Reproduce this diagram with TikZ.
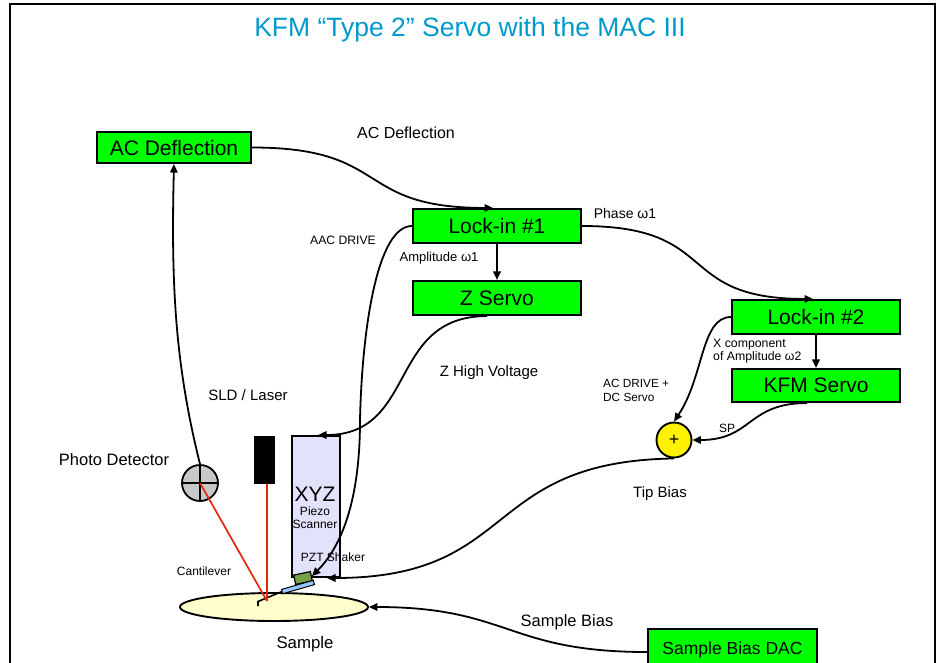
\documentclass[tikz,border=0pt]{standalone}
\usepackage{fontspec}
\setmainfont{Liberation Sans}
\usetikzlibrary{arrows.meta,shapes.geometric}
\definecolor{unitgreen}{RGB}{0,255,0}
\definecolor{titleblue}{RGB}{0,153,204}
\definecolor{scannerfill}{RGB}{226,226,250}
\definecolor{samplefill}{RGB}{255,255,204}
\definecolor{shakergreen}{RGB}{118,160,70}
\definecolor{leverblue}{RGB}{150,200,250}
\definecolor{beamred}{RGB}{225,40,10}
\definecolor{detgray}{RGB}{200,200,200}
\begin{document}
\begin{tikzpicture}[x=1pt,y=-1pt,
  unit/.style={draw=black, line width=2.1pt, fill=unitgreen, inner sep=0pt,
    minimum width=168pt, minimum height=34pt, font=\fontsize{21}{24}\selectfont},
  lbl/.style={inner sep=0pt, font=\fontsize{#1}{#1}\selectfont},
  conn/.style={line width=1.8pt, -{Triangle[length=8.5pt,width=7.5pt]}},
  beam/.style={draw=beamred, line width=1.7pt}]
\useasboundingbox (0,0) rectangle (941,662);
\clip (0,0) rectangle (941,662);

% page frame
\draw[line width=2.6pt] (10,4) rectangle (935,720);

% title
\node[lbl=26.5, text=titleblue] (title) at (470,30) {KFM “Type 2” Servo with the MAC III};

% electronics blocks
\node[unit, minimum width=154pt, minimum height=31pt] (acdef) at (174,147.5) {AC Deflection};
\node[unit] (lock1) at (497,226) {Lock-in \#1};
\node[unit] (zservo) at (497,298) {Z Servo};
\node[unit] (lock2) at (816,317) {Lock-in \#2};
\node[unit, minimum height=33pt] (kfm) at (816,385.5) {KFM Servo};
\node[unit, minimum width=169pt, minimum height=40pt, font=\fontsize{17.5}{20}\selectfont,
  text depth=0pt] (dac) at (732.5,649) {\raisebox{2pt}{Sample Bias DAC}};

% summing junction
\node[circle, draw=black, line width=1.9pt, fill=yellow, minimum size=35pt, inner sep=0pt,
  font=\fontsize{18}{18}\selectfont] (sum) at (674,440) {+};

% sample
\node[ellipse, draw=black, line width=1.9pt, fill=samplefill, minimum width=188pt,
  minimum height=28pt, inner sep=0pt] (sample) at (274,607) {};

% XYZ piezo scanner
\node[rectangle, draw=black, line width=1.9pt, fill=scannerfill, minimum width=48pt,
  minimum height=141pt, inner sep=0pt] (xyz) at (316,506.5) {};
\node[lbl=21] (xyzlbl) at (315,494) {XYZ};
\node[lbl=12] (piezo) at (315,511) {Piezo};
\node[lbl=12] (scanner) at (315,524) {Scanner};
\node[lbl=12] (pztlbl) at (333,557) {PZT Shaker};

% shaker and cantilever
\node[rectangle, draw=black, line width=1.2pt, fill=shakergreen, minimum width=17pt,
  minimum height=9.5pt, inner sep=0pt, rotate=12] (shaker) at (303,578) {};
\node[rectangle, draw=black, line width=1pt, fill=leverblue, minimum width=33pt,
  minimum height=4.5pt, inner sep=0pt, rotate=16] (lever) at (298,587) {};
\coordinate (tip) at (267,601);
\draw[line width=1.6pt] (258,606) -- (258,601.5) -- (lever.west);

% laser and photo detector
\node[rectangle, fill=black, minimum width=21pt, minimum height=48pt, inner sep=0pt] (laser) at (264.5,460) {};
\node[circle, draw=black, line width=1.8pt, fill=detgray, minimum size=36pt, inner sep=0pt] (pd) at (200,483) {};
\draw[line width=1.6pt] (pd.north) -- (pd.south) (pd.west) -- (pd.east);
\draw[beam] (tip |- laser.south) -- (tip);
\draw[beam] (pd.center) -- (tip);

% signal paths
\draw[conn] (acdef.east) .. controls +(140,0) and +(-140,0) .. ([xshift=-4pt]lock1.north);
\draw[conn] (lock1.east) .. controls +(140,0) and +(-140,0) .. ([xshift=-3pt]lock2.north);
\draw[conn] (lock1.south) -- (zservo.north);
\draw[conn] (lock2.south) -- (kfm.north);
\draw[conn] ([xshift=-10pt]zservo.south) .. controls +(-100,0) and +(100,0) .. ([xshift=2pt]xyz.north);
\coordinate (aacmid) at (360,420);
\draw[conn] (lock1.west) .. controls +(-35,0) and +(2,-90) .. (aacmid)
  .. controls +(0,90) and +(25,-25) .. (shaker.east);
\draw[conn] (pd.north) .. controls +(-25,-100) and +(-3,120) .. (acdef.south);
\draw[conn] (lock2.west) .. controls +(-30,0) and +(30,-45) .. (sum.north);
\draw[conn] ([xshift=-9pt]kfm.south) .. controls +(-60,0) and +(60,0) .. (sum.east);
\coordinate (tipin) at (327,578);
\draw[conn] (sum.south) .. controls +(-194,3) and +(193,0) .. (tipin);
\draw[conn] ([yshift=-3pt]dac.west) .. controls +(-140,0) and +(140,0) .. (sample.east);

% signal labels
\node[lbl=16] (acdeflbl) at (406,133) {AC Deflection};
\node[lbl=14] (phase) at (625,213) {Phase ω1};
\node[lbl=12.2] (aac) at (343,240) {AAC DRIVE};
\node[lbl=13] (amp1) at (439,258) {Amplitude ω1};
\node[lbl=15] (zhv) at (489,373) {Z High Voltage};
\node[lbl=15] (sld) at (248,395) {SLD / Laser};
\node[lbl=16.5] (pdlbl) at (114,460) {Photo Detector};
\node[lbl=12, anchor=west, align=left, font=\fontsize{12.3}{13}\selectfont] (xcomp) at (713,351.5) {X component\\of Amplitude ω2};
\node[lbl=12, anchor=west, align=left, font=\fontsize{11.8}{14}\selectfont] (acdrive) at (603,390) {AC DRIVE +\\DC Servo};
\node[lbl=12] (sp) at (727,428) {SP};
\node[lbl=15] (tipbias) at (660,494) {Tip Bias};
\node[lbl=12] (cant) at (204,571) {Cantilever};
\node[lbl=16.8] (samplelbl) at (305,644) {Sample};
\node[lbl=16.5] (sbias) at (567,622) {Sample Bias};
\end{tikzpicture}
\end{document}
